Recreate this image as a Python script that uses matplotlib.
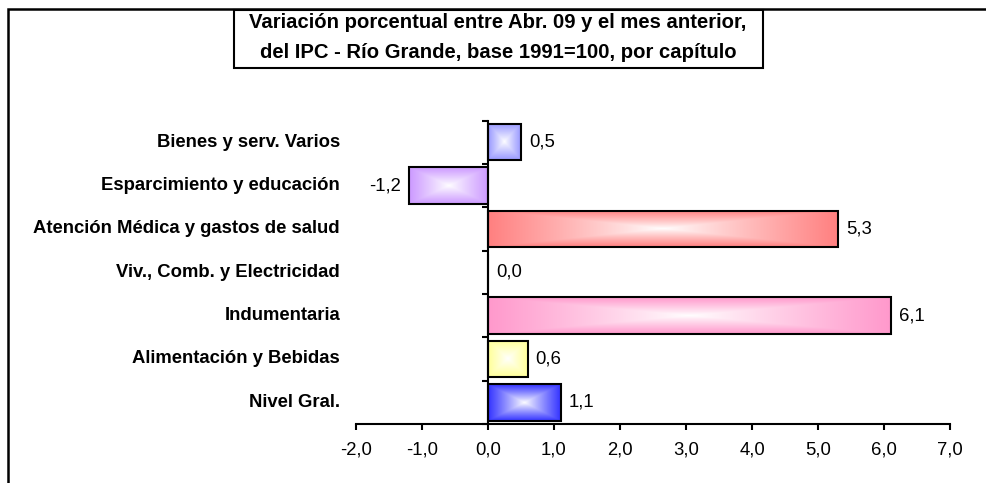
import numpy as np
import matplotlib
matplotlib.use("Agg")
import matplotlib.pyplot as plt
from matplotlib.patches import Rectangle
from matplotlib.colors import to_rgb

plt.rcParams['font.family'] = ['Liberation Sans', 'DejaVu Sans']

categories = ["Nivel Gral.", "Alimentación y Bebidas", "Indumentaria",
              "Viv., Comb. y Electricidad", "Atención Médica y gastos de salud",
              "Esparcimiento y educación", "Bienes y serv. Varios"]
values = [1.1, 0.6, 6.1, 0.0, 5.3, -1.2, 0.5]
colors = ["#3333FF", "#FFFF99", "#FF99CC", "#FF8080", "#FF8080", "#CC99FF", "#9999FF"]
xticks = [-2, -1, 0, 1, 2, 3, 4, 5, 6, 7]
title_lines = ["Variación porcentual entre Abr. 09 y el mes anterior,",
               "del IPC - Río Grande, base 1991=100, por capítulo"]

W, H = 986, 483
FS = 13.3
fig = plt.figure(figsize=(W / 100, H / 100), dpi=100)
ax = fig.add_axes([356 / W, 1 - 424 / H, (950 - 356) / W, (424 - 120.5) / H])

y = np.arange(len(categories))
bar_h = 0.84
bars = ax.barh(y, values, height=bar_h, facecolor='none', edgecolor='black',
               linewidth=1.5, zorder=3)

# centre-out rectangular gradient fill
ny, nx = 80, 240
uu, vv = np.meshgrid(np.linspace(-1, 1, nx), np.linspace(-1, 1, ny))
t = np.maximum(np.abs(uu), np.abs(vv)) ** 0.9
for rect, v, c in zip(bars, values, colors):
    if v == 0:
        continue
    rgb = np.array(to_rgb(c))
    img = 1 - (1 - rgb)[None, None, :] * t[:, :, None]
    x0 = rect.get_x()
    x1 = x0 + rect.get_width()
    y0 = rect.get_y()
    y1 = y0 + rect.get_height()
    im = ax.imshow(img, extent=[min(x0, x1), max(x0, x1), y0, y1], aspect='auto',
                   interpolation='bilinear', zorder=2)
    im.set_clip_path(rect)

ax.set_xlim(-2, 7)
ax.set_ylim(-0.5, len(categories) - 0.5)

for s in ['top', 'right']:
    ax.spines[s].set_visible(False)
ax.spines['left'].set_position(('data', 0))
ax.spines['left'].set_linewidth(1.5)
ax.spines['bottom'].set_linewidth(1.5)
ax.spines['left'].set_zorder(4)

ax.set_xticks(xticks)
ax.set_xticklabels([f"{v:.1f}".replace('.', ',') for v in xticks], fontsize=FS)
ax.tick_params(axis='x', direction='out', length=4.5, width=1.5, pad=8)
ax.set_yticks(np.arange(-0.5, len(categories), 1.0))
ax.set_yticklabels([])
ax.tick_params(axis='y', direction='out', length=4.3, width=1.5)

for xi, cat in zip(y, categories):
    ax.annotate(cat, xy=(0, xi), xycoords=ax.get_yaxis_transform(),
                xytext=(-16, 0), textcoords='offset pixels',
                ha='right', va='center', fontsize=FS, fontweight='bold')

for xi, v in zip(y, values):
    lab = f"{v:.1f}".replace('.', ',')
    off = 8 if v >= 0 else -8
    ax.annotate(lab, xy=(v, xi), xytext=(off, 0), textcoords='offset pixels',
                ha='left' if v >= 0 else 'right', va='center', fontsize=FS)

# title box
fig.add_artist(Rectangle((234 / W, 1 - 68 / H), (763 - 234) / W, (68 - 10) / H,
                         transform=fig.transFigure, facecolor='white',
                         edgecolor='black', linewidth=1.5, zorder=5))
fig.text(498 / W, 1 - 23 / H, title_lines[0], ha='center', va='center',
         fontsize=14.6, fontweight='bold', zorder=6)
fig.text(498 / W, 1 - 52 / H, title_lines[1], ha='center', va='center',
         fontsize=14.6, fontweight='bold', zorder=6)

# outer chart frame
fig.add_artist(Rectangle((8 / W, -0.1), 1.2, (1 - 9 / H) + 0.1,
                         transform=fig.transFigure, facecolor='none',
                         edgecolor='black', linewidth=1.8, zorder=1))

fig.savefig("out.png", dpi=100)
